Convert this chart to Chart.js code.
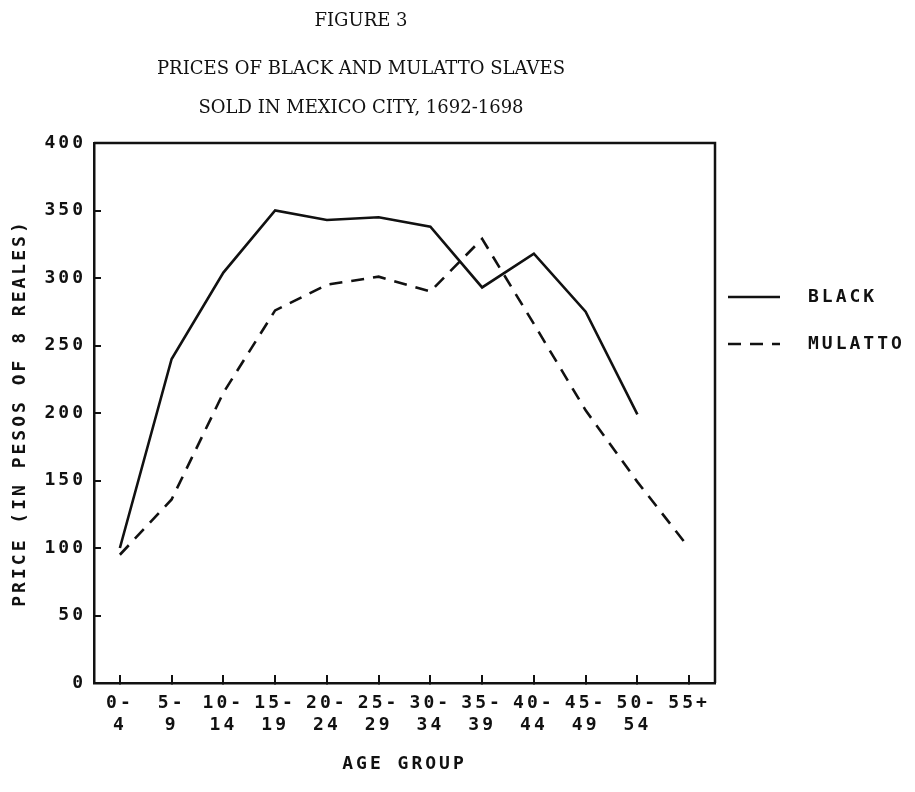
<!DOCTYPE html>
<html>
<head>
<meta charset="utf-8">
<title>Figure 3</title>
<script src="https://cdn.jsdelivr.net/npm/chart.js@4.4.1/dist/chart.umd.min.js"></script>
<style>
  html, body { margin: 0; padding: 0; background: #fff; }
  #wrap { width: 915px; height: 792px; }
</style>
</head>
<body>
<div id="wrap"><canvas id="chart"></canvas></div>
<script>
const ageGroups = [
  ["0-", "4"], ["5-", "9"], ["10-", "14"], ["15-", "19"], ["20-", "24"], ["25-", "29"],
  ["30-", "34"], ["35-", "39"], ["40-", "44"], ["45-", "49"], ["50-", "54"], ["55+", ""]
];
const blackPrices = [100, 240, 304, 350, 343, 345, 338, 293, 318, 275, 199, null];
const mulattoPrices = [95, 136, 215, 276, 295, 301, 290, 329, 266, 202, 149, 100];
const seriesNames = ["BLACK", "MULATTO"];
const titleLines = ["FIGURE 3", "PRICES OF BLACK AND MULATTO SLAVES", "SOLD IN MEXICO CITY, 1692-1698"];

const ink = "#111";
const plotter = { family: '"DejaVu Sans Mono", monospace', size: 18, weight: "bold", lineHeight: 1.25 };

// plotter lettering is spaced wide, so stretch all chart text a little
const spacing = {
  id: "spacing",
  beforeUpdate(chart) { chart.ctx.letterSpacing = "3px"; },
  beforeDraw(chart) { chart.ctx.letterSpacing = "3px"; }
};

// box frame, figure heading and the key on the right
const figureText = {
  id: "figureText",
  afterDraw(chart) {
    const { ctx, chartArea: a } = chart;
    ctx.save();
    ctx.strokeStyle = ink;
    ctx.lineWidth = 2.5;
    ctx.setLineDash([]);
    ctx.beginPath();
    ctx.moveTo(a.left, a.top);
    ctx.lineTo(a.right, a.top);
    ctx.lineTo(a.right, a.bottom);
    ctx.stroke();

    ctx.letterSpacing = "0px";
    ctx.fillStyle = ink;
    ctx.textAlign = "center";
    ctx.textBaseline = "middle";
    ctx.font = '18px "DejaVu Serif"';
    const ys = [21, 69, 108];
    titleLines.forEach((t, i) => ctx.fillText(t, 361, ys[i]));

    ctx.letterSpacing = "3px";
    ctx.textAlign = "left";
    ctx.font = 'bold 18px "DejaVu Sans Mono"';
    chart.data.datasets.forEach((ds, i) => {
      const y = 297 + i * 47;
      ctx.setLineDash(ds.borderDash || []);
      ctx.lineWidth = ds.borderWidth;
      ctx.beginPath();
      ctx.moveTo(728, y);
      ctx.lineTo(780, y);
      ctx.stroke();
      ctx.fillText(ds.label, 808, y);
    });
    ctx.restore();
  }
};

new Chart(document.getElementById("chart"), {
  type: "line",
  data: {
    labels: ageGroups,
    datasets: [
      {
        label: seriesNames[0],
        data: blackPrices,
        borderColor: ink,
        borderWidth: 2.6,
        fill: false
      },
      {
        label: seriesNames[1],
        data: mulattoPrices,
        borderColor: ink,
        borderWidth: 2.6,
        borderDash: [13, 9],
        fill: false
      }
    ]
  },
  options: {
    responsive: true,
    maintainAspectRatio: false,
    animation: false,
    layout: { padding: { top: 143, right: 200, bottom: 0, left: 0 } },
    elements: { point: { radius: 0 }, line: { tension: 0 } },
    plugins: {
      legend: { display: false },
      title: { display: false },
      tooltip: { enabled: false }
    },
    scales: {
      x: {
        offset: true,
        grid: { drawOnChartArea: false, drawTicks: true, tickLength: -8, color: ink, lineWidth: 2 },
        border: { color: ink, width: 2.5 },
        ticks: { color: ink, font: plotter, padding: 17, maxRotation: 0, autoSkip: false },
        title: { display: true, text: "AGE GROUP", color: ink, font: plotter, padding: { top: 0, bottom: 16 } },
        afterFit(scale) { scale.height = 109; }
      },
      y: {
        min: 0,
        max: 400,
        grid: { drawOnChartArea: false, drawTicks: true, tickLength: -7, color: ink, lineWidth: 2 },
        border: { color: ink, width: 2.5 },
        ticks: { stepSize: 50, color: ink, font: plotter, padding: 15 },
        title: { display: true, text: "PRICE (IN PESOS OF 8 REALES)", color: ink, font: plotter, padding: { top: 9, bottom: 0 } },
        afterFit(scale) { scale.width = 94; }
      }
    }
  },
  plugins: [spacing, figureText]
});
</script>
</body>
</html>
